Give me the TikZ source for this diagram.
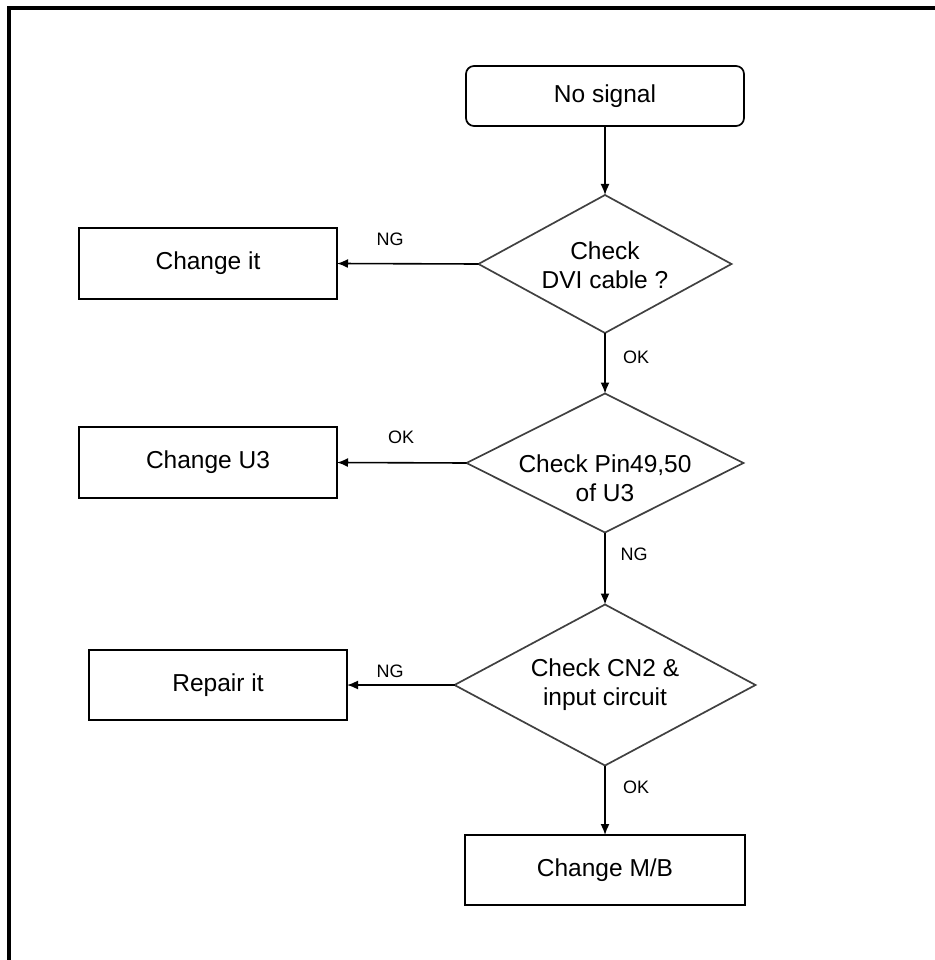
\documentclass[tikz,border=0pt]{standalone}
\usepackage{fontspec}
\setmainfont{Liberation Sans}
\usetikzlibrary{shapes.geometric,arrows.meta}
\begin{document}
\begin{tikzpicture}[x=1pt,y=-1pt,
  box/.style={draw=black,line width=1.7pt,rectangle,inner sep=0pt,outer sep=0pt,font=\fontsize{24.5}{29}\selectfont},
  dec/.style={draw=black!75,line width=1.7pt,diamond,inner sep=0pt,outer sep=0pt},
  dtext/.style={align=center,inner sep=0pt,font=\fontsize{24.5}{29}\selectfont},
  lab/.style={inner sep=0pt,font=\fontsize{18}{20}\selectfont},
  arr/.style={draw=black,line width=1.6pt,-{Latex[length=11pt,width=9pt]}}
]
\useasboundingbox (0,0) rectangle (934,960);
% frame
\draw[line width=4.5pt,line cap=rect] (9,960) -- (9,8) -- (934,8);

% nodes
\node[box,rounded corners=8pt,minimum width=278pt,minimum height=60pt] (ns) at (605,96) {No signal};
\node[dec,minimum width=253pt,minimum height=138pt] (d1) at (605,264) {};
\node[dtext] (t1) at (605,265) {Check\\DVI cable ?};
\node[box,minimum width=258pt,minimum height=71pt] (b1) at (208,263.5) {Change it};

\node[dec,minimum width=277pt,minimum height=139pt] (d2) at (605,463) {};
\node[dtext] (t2) at (605,478) {Check Pin49,50\\of U3};
\node[box,minimum width=258pt,minimum height=71pt] (b2) at (208,462.5) {Change U3};

\node[dec,minimum width=301pt,minimum height=161pt] (d3) at (605,685) {};
\node[dtext] (t3) at (605,685) {Check CN2 \&\\input circuit};
\node[box,minimum width=258pt,minimum height=70pt] (b3) at (218,685) {Repair it};

\node[box,minimum width=280pt,minimum height=70pt] (b4) at (605,870) {Change M/B};

% connectors
\draw[arr] (ns) -- (d1);
\draw[arr] (d1.west) -- (b1.east);
\draw[arr] (d1) -- (d2);
\draw[arr] (d2.west) -- (b2.east);
\draw[arr] (d2) -- (d3);
\draw[arr] (d3.west) -- (b3.east);
\draw[arr] (d3) -- (b4);

% labels
\node[lab] (l1) at (390,239) {NG};
\node[lab] (l2) at (636,357) {OK};
\node[lab] (l3) at (401,437) {OK};
\node[lab] (l4) at (634,554) {NG};
\node[lab] (l5) at (390,671) {NG};
\node[lab] (l6) at (636,787) {OK};
\end{tikzpicture}
\end{document}
